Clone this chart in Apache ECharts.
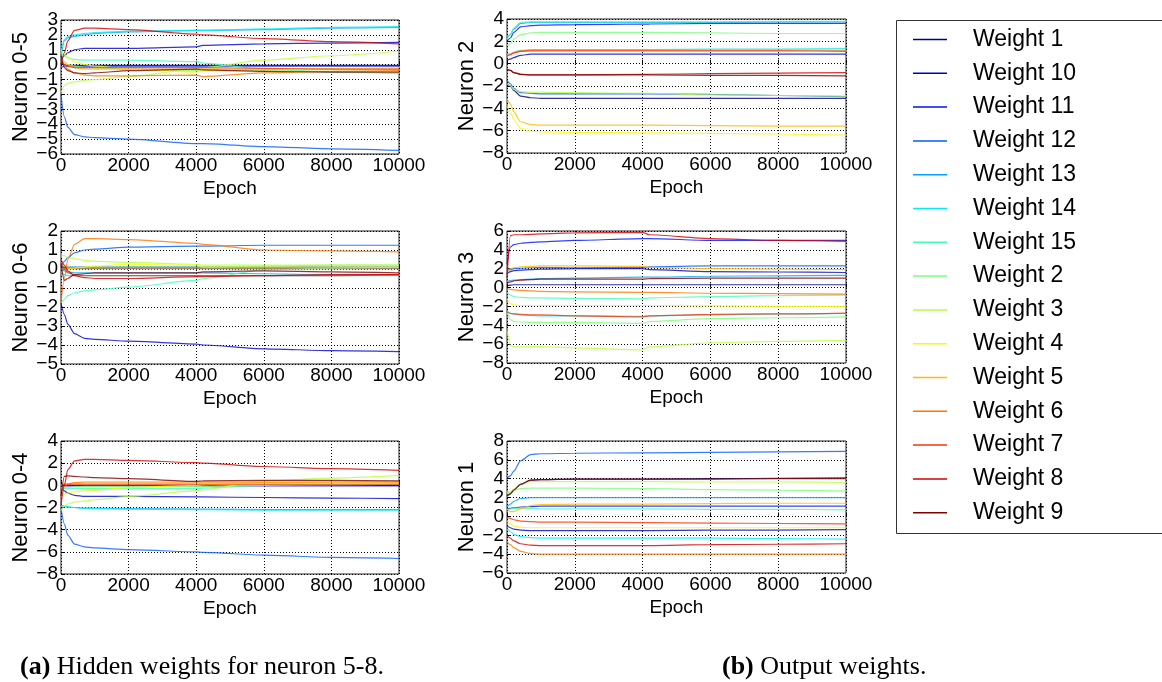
<!DOCTYPE html>
<html>
<head>
<meta charset="utf-8">
<script src="https://cdn.jsdelivr.net/npm/echarts@6/dist/echarts.min.js"></script>
<style>html,body{margin:0;padding:0;background:#fff;}#c{width:1162px;height:682px;}</style>
</head>
<body>
<div id="c"></div>
<script>
// ---- data ----
const epochs = [0, 100, 200, 400, 700, 1000, 2000, 4000, 4200, 6000, 8000, 10000];
const weightNames = ['Weight 1','Weight 10','Weight 11','Weight 12','Weight 13','Weight 14','Weight 15','Weight 2','Weight 3','Weight 4','Weight 5','Weight 6','Weight 7','Weight 8','Weight 9'];
const xTicks = [0, 2000, 4000, 6000, 8000, 10000];

// rows follow weightNames order
const neuron05 = [
  [0.1, 0, -0.05, -0.05, -0.05, -0.05, -0.05, -0.05, -0.05, -0.05, -0.05, -0.05],
  [0.3, 0.6, 0.8, 1.0, 1.1, 1.1, 1.1, 1.2, 1.3, 1.4, 1.45, 1.5],
  [-0.2, -0.1, -0.1, -0.1, -0.1, -0.1, -0.1, -0.1, -0.1, -0.1, -0.1, -0.1],
  [-2.0, -3.5, -4.2, -4.7, -4.85, -4.9, -5.0, -5.3, -5.3, -5.5, -5.65, -5.75],
  [0.5, 1.6, 1.8, 1.9, 2.0, 2.1, 2.2, 2.3, 2.3, 2.35, 2.45, 2.5],
  [0.8, 1.7, 1.9, 2.0, 2.1, 2.15, 2.25, 2.3, 2.3, 2.4, 2.5, 2.55],
  [0.8, 0.6, 0.45, 0.35, 0.3, 0.3, 0.3, 0.2, 0.1, -0.3, -0.5, -0.6],
  [0.3, 0.1, 0, -0.1, -0.2, -0.2, -0.3, -0.4, -0.4, -0.4, -0.45, -0.5],
  [-1.9, -1.4, -1.25, -1.15, -1.05, -1.0, -0.8, -0.3, -0.2, 0.3, 0.6, 0.9],
  [1.0, 0.7, 0.5, 0.2, 0.0, -0.1, -0.3, -0.5, -0.4, -0.3, -0.25, -0.2],
  [0.5, 0.2, 0, -0.2, -0.3, -0.3, -0.3, -0.3, -0.3, -0.3, -0.3, -0.3],
  [0.5, 0, -0.3, -0.55, -0.7, -0.75, -0.75, -0.7, -0.8, -0.55, -0.45, -0.4],
  [0.2, 0, -0.1, -0.2, -0.2, -0.2, -0.2, -0.2, -0.2, -0.25, -0.3, -0.3],
  [0.0, 0.8, 1.6, 2.3, 2.45, 2.45, 2.35, 2.05, 2.0, 1.75, 1.55, 1.4],
  [0.6, -0.2, -0.4, -0.55, -0.6, -0.55, -0.4, -0.3, -0.35, -0.45, -0.5, -0.5]
];
const neuron06 = [
  [0.1, 0.05, 0.05, 0.05, 0.05, 0.05, 0.05, 0.05, 0.05, 0.05, 0.05, 0.05],
  [-1.8, -2.4, -2.9, -3.4, -3.65, -3.7, -3.8, -3.95, -4.0, -4.2, -4.3, -4.35],
  [0.2, 0.1, 0.1, 0.1, 0.1, 0.1, 0.1, 0.1, 0.1, 0.1, 0.1, 0.1],
  [0.1, 0.4, 0.6, 0.85, 1.0, 1.05, 1.15, 1.2, 1.2, 1.25, 1.25, 1.25],
  [0, -0.1, -0.15, -0.2, -0.2, -0.2, -0.2, -0.2, -0.2, -0.25, -0.3, -0.3],
  [-0.2, -0.3, -0.35, -0.35, -0.35, -0.35, -0.35, -0.35, -0.35, -0.35, -0.35, -0.35],
  [-1.8, -1.6, -1.4, -1.25, -1.15, -1.1, -0.95, -0.6, -0.5, -0.05, 0.05, 0.1],
  [0.2, 0.15, 0.1, 0.1, 0.1, 0.1, 0.1, 0.1, 0.1, 0.15, 0.2, 0.2],
  [0.7, 0.7, 0.6, 0.55, 0.45, 0.4, 0.35, 0.25, 0.2, 0.2, 0.2, 0.2],
  [0.0, 0.0, 0.0, 0.05, 0.1, 0.15, 0.25, 0.2, 0.1, 0.1, 0.1, 0.1],
  [0, 0, 0, 0, 0, 0, 0, 0, 0, 0, 0, 0],
  [-1.8, -0.5, 0.5, 1.3, 1.6, 1.6, 1.55, 1.35, 1.3, 1.0, 0.95, 0.9],
  [0.3, 0, -0.2, -0.3, -0.35, -0.35, -0.35, -0.35, -0.35, -0.35, -0.35, -0.3],
  [0.5, 0.2, -0.1, -0.35, -0.45, -0.5, -0.5, -0.4, -0.4, -0.35, -0.3, -0.3],
  [0.3, -0.6, -0.5, -0.3, -0.25, -0.2, -0.2, -0.2, -0.15, -0.1, -0.15, -0.2]
];
const neuron04 = [
  [0, 0, 0, 0, 0, 0, 0, 0, 0, 0, 0, 0],
  [-0.3, -0.5, -0.7, -0.9, -1.0, -1.0, -1.0, -1.05, -1.05, -1.1, -1.15, -1.2],
  [0, -0.05, -0.05, -0.05, -0.05, -0.05, -0.05, -0.05, -0.05, -0.05, -0.05, -0.05],
  [-2.0, -3.5, -4.5, -5.3, -5.55, -5.65, -5.8, -6.0, -6.05, -6.3, -6.5, -6.6],
  [-1.8, -1.9, -1.95, -2.0, -2.05, -2.05, -2.1, -2.15, -2.15, -2.2, -2.2, -2.2],
  [-1.8, -1.9, -1.95, -2.0, -2.05, -2.1, -2.15, -2.2, -2.2, -2.25, -2.25, -2.25],
  [-0.3, -0.3, -0.3, -0.3, -0.3, -0.3, -0.3, -0.3, -0.25, 0, 0.05, 0.1],
  [-0.2, -0.2, -0.2, -0.15, -0.1, -0.1, -0.1, -0.1, -0.1, 0.05, 0.1, 0.15],
  [-2.3, -1.9, -1.7, -1.5, -1.4, -1.3, -1.0, -0.5, -0.4, 0.4, 0.65, 0.9],
  [-1.0, -0.8, -0.7, -0.6, -0.5, -0.45, -0.2, 0.0, 0.05, 0.2, 0.2, 0.2],
  [0.0, 0.1, 0.15, 0.2, 0.2, 0.2, 0.2, 0.2, 0.2, 0.25, 0.3, 0.3],
  [-0.5, -0.1, 0.1, 0.25, 0.3, 0.3, 0.3, 0.3, 0.3, 0.3, 0.3, 0.3],
  [0.1, 0.1, 0.1, 0.1, 0.1, 0.1, 0.1, 0.1, 0.1, 0.1, 0.1, 0.1],
  [-1.8, 0.0, 1.4, 2.2, 2.35, 2.35, 2.25, 2.05, 2.0, 1.7, 1.5, 1.35],
  [-1.0, 0.8, 0.85, 0.8, 0.75, 0.7, 0.6, 0.35, 0.4, 0.45, 0.45, 0.4]
];
const neuron2 = [
  [-1.8, -2.0, -2.4, -2.9, -3.05, -3.1, -3.1, -3.1, -3.1, -3.1, -3.1, -3.1],
  [0.3, 0.4, 0.55, 0.75, 0.85, 0.85, 0.85, 0.85, 0.85, 0.85, 0.85, 0.85],
  [2.0, 2.3, 2.8, 3.3, 3.4, 3.45, 3.5, 3.55, 3.55, 3.6, 3.6, 3.6],
  [-1.5, -1.8, -2.2, -2.6, -2.65, -2.7, -2.7, -2.7, -2.7, -2.75, -2.85, -2.95],
  [2.3, 2.6, 3.1, 3.6, 3.7, 3.7, 3.7, 3.7, 3.7, 3.7, 3.75, 3.75],
  [0.8, 0.9, 1.0, 1.2, 1.25, 1.25, 1.25, 1.25, 1.25, 1.3, 1.3, 1.35],
  [2.2, 2.6, 3.2, 3.7, 3.75, 3.75, 3.75, 3.75, 3.75, 3.75, 3.8, 3.8],
  [1.6, 1.8, 2.2, 2.6, 2.75, 2.8, 2.8, 2.8, 2.8, 2.75, 2.7, 2.7],
  [-1.8, -2.0, -2.3, -2.5, -2.55, -2.55, -2.6, -2.65, -2.65, -2.8, -2.85, -2.9],
  [-3.8, -4.3, -5.0, -5.8, -6.05, -6.1, -6.15, -6.2, -6.2, -6.25, -6.3, -6.4],
  [-3.2, -3.6, -4.3, -5.2, -5.45, -5.5, -5.5, -5.5, -5.5, -5.55, -5.6, -5.6],
  [0.7, 0.8, 1.0, 1.15, 1.2, 1.2, 1.2, 1.2, 1.2, 1.2, 1.2, 1.2],
  [0.7, 0.8, 0.95, 1.1, 1.15, 1.15, 1.15, 1.15, 1.15, 1.15, 1.15, 1.1],
  [-0.5, -0.6, -0.8, -0.95, -1.0, -1.0, -1.0, -0.95, -0.95, -0.9, -0.85, -0.8],
  [-0.5, -0.6, -0.8, -0.95, -1.0, -1.0, -1.0, -1.0, -1.0, -1.05, -1.05, -1.1]
];
const neuron3 = [
  [0.2, 0.25, 0.3, 0.3, 0.3, 0.3, 0.3, 0.3, 0.3, 0.3, 0.3, 0.3],
  [1.5, 1.7, 1.8, 1.85, 1.9, 1.95, 2.0, 2.0, 1.9, 1.7, 1.65, 1.6],
  [2.5, 4.3, 4.55, 4.7, 4.8, 4.85, 5.0, 5.2, 5.2, 5.0, 5.0, 5.0],
  [1.8, 1.9, 2.0, 2.05, 2.1, 2.15, 2.1, 2.15, 2.2, 2.3, 2.3, 2.3],
  [0.7, 0.75, 0.8, 0.85, 0.9, 0.95, 1.0, 1.1, 1.1, 1.2, 1.25, 1.3],
  [-2.5, -2.7, -2.8, -2.9, -2.95, -3.0, -3.0, -3.05, -3.0, -2.9, -2.8, -2.75],
  [-0.5, -0.8, -0.95, -1.05, -1.1, -1.1, -1.15, -1.2, -1.1, -0.95, -0.85, -0.8],
  [-2.6, -3.4, -3.6, -3.65, -3.7, -3.7, -3.7, -3.8, -3.6, -3.3, -3.2, -3.1],
  [-4.5, -6.1, -6.3, -6.3, -6.25, -6.25, -6.4, -6.6, -6.3, -5.85, -5.7, -5.6],
  [-1.2, -1.7, -1.85, -1.9, -1.9, -1.9, -1.9, -1.9, -1.9, -1.95, -2.0, -2.0],
  [1.8, 2.0, 2.1, 2.2, 2.25, 2.3, 2.3, 2.25, 2.15, 2.0, 1.95, 1.9],
  [-0.1, -0.2, -0.25, -0.3, -0.35, -0.4, -0.45, -0.5, -0.5, -0.6, -0.65, -0.7],
  [-2.6, -2.75, -2.8, -2.85, -2.9, -2.9, -3.0, -3.1, -3.0, -2.85, -2.8, -2.7],
  [1.0, 5.5, 5.6, 5.6, 5.65, 5.7, 5.8, 5.85, 5.6, 5.2, 5.0, 4.9],
  [0.5, 0.6, 0.7, 0.8, 0.85, 0.9, 0.9, 0.9, 0.95, 1.0, 1.0, 1.0]
];
const neuron1 = [
  [2.2, 2.4, 2.8, 3.4, 3.85, 3.9, 3.95, 3.95, 3.95, 4.0, 4.05, 4.1],
  [-1.0, -1.2, -1.35, -1.45, -1.5, -1.5, -1.5, -1.5, -1.5, -1.45, -1.45, -1.4],
  [0.8, 0.85, 0.9, 1.0, 1.05, 1.1, 1.1, 1.1, 1.1, 1.1, 1.1, 1.1],
  [4.1, 4.3, 4.8, 5.9, 6.55, 6.65, 6.7, 6.75, 6.75, 6.8, 6.85, 6.9],
  [1.0, 1.3, 1.6, 1.9, 2.0, 2.0, 2.0, 2.0, 2.0, 2.0, 2.0, 2.0],
  [-1.3, -1.6, -1.9, -2.15, -2.25, -2.3, -2.3, -2.3, -2.3, -2.3, -2.35, -2.4],
  [0.7, 0.8, 0.85, 0.85, 0.85, 0.8, 0.8, 0.8, 0.8, 0.75, 0.75, 0.7],
  [2.5, 2.6, 2.75, 2.95, 3.0, 3.0, 3.0, 2.95, 2.95, 2.85, 2.8, 2.7],
  [2.5, 2.6, 2.9, 3.4, 3.7, 3.7, 3.7, 3.7, 3.7, 3.65, 3.65, 3.6],
  [-0.5, -0.8, -1.0, -1.15, -1.2, -1.2, -1.2, -1.2, -1.2, -1.2, -1.2, -1.2],
  [0.8, 0.5, 0.5, 0.8, 1.15, 1.25, 1.3, 1.3, 1.3, 1.35, 1.4, 1.4],
  [-2.7, -3.0, -3.3, -3.7, -3.95, -4.0, -4.0, -4.0, -4.0, -4.0, -4.0, -4.0],
  [-0.1, -0.2, -0.35, -0.5, -0.55, -0.6, -0.6, -0.65, -0.65, -0.7, -0.75, -0.8],
  [-2.0, -2.3, -2.6, -2.9, -3.05, -3.1, -3.1, -3.1, -3.1, -3.0, -2.95, -2.9],
  [2.2, 2.4, 2.8, 3.4, 3.85, 3.9, 3.95, 3.95, 3.95, 3.95, 4.0, 4.0]
];

const panelNames = ['Neuron 0-5', 'Neuron 0-6', 'Neuron 0-4', 'Neuron 2', 'Neuron 3', 'Neuron 1'];
const panelData = [neuron05, neuron06, neuron04, neuron2, neuron3, neuron1];
const yMin = [-6, -5, -8, -8, -8, -6];
const yMax = [3, 2, 4, 4, 6, 8];
const yStep = [1, 1, 2, 2, 2, 2];
const captionA = 'Hidden weights for neuron 5-8.';
const captionB = 'Output weights.';

// ---- styling ----
function jet(t) {
  function seg(p) {
    for (let i = 0; i < p.length - 1; i++) {
      const a = p[i], b = p[i + 1];
      if (t >= a[0] && t <= b[0]) return a[1] + (b[1] - a[1]) * (t - a[0]) / (b[0] - a[0]);
    }
    return p[p.length - 1][1];
  }
  const r = seg([[0,0],[0.35,0],[0.66,1],[0.89,1],[1,0.5]]);
  const g = seg([[0,0],[0.125,0],[0.375,1],[0.64,1],[0.91,0],[1,0]]);
  const b = seg([[0,0.5],[0.11,1],[0.34,1],[0.65,0],[1,0]]);
  return 'rgb(' + Math.round(r*255) + ',' + Math.round(g*255) + ',' + Math.round(b*255) + ')';
}
const colors = weightNames.map((_, i) => jet(i / (weightNames.length - 1)));
const FONT = 'Liberation Sans, Arial, sans-serif';
const TICK_FONT = 19;
const gridBoxes = [
  {left: 61, top: 20, width: 338, height: 134},
  {left: 61, top: 231, width: 338, height: 133},
  {left: 61, top: 441, width: 338, height: 133},
  {left: 507, top: 19, width: 339, height: 134},
  {left: 507, top: 231, width: 339, height: 132},
  {left: 507, top: 441, width: 339, height: 132}
];
const minus = v => (v < 0 ? '\u2212' + Math.abs(v) : String(v));

const grids = [], xAxes = [], yAxes = [], extraY = [], series = [];
gridBoxes.forEach((g, p) => {
  grids.push(Object.assign({show: true, borderColor: '#222', borderWidth: 1, backgroundColor: 'transparent', containLabel: false}, g));
  xAxes.push({
    gridIndex: p, type: 'value', min: 0, max: 10000, interval: 2000,
    name: 'Epoch', nameLocation: 'middle', nameGap: 25,
    nameTextStyle: {fontSize: 19, color: '#000', fontFamily: FONT},
    axisLine: {show: false},
    axisTick: {show: true, inside: true, length: 4, lineStyle: {color: '#000'}},
    axisLabel: {fontSize: TICK_FONT, color: '#000', fontFamily: FONT, margin: 2, showMinLabel: true, showMaxLabel: true,
      formatter: v => xTicks.includes(v) ? String(v) : ''},
    splitLine: {show: true, lineStyle: {color: '#000', type: [1, 2], width: 1}}
  });
  yAxes.push({
    gridIndex: p, type: 'value', min: yMin[p], max: yMax[p], interval: yStep[p],
    name: panelNames[p], nameLocation: 'middle', nameGap: p < 3 ? 24 : 26,
    nameTextStyle: {fontSize: 22, color: '#000', fontFamily: FONT},
    axisLine: {show: false},
    axisTick: {show: true, inside: true, length: 4, lineStyle: {color: '#000'}},
    axisLabel: {fontSize: TICK_FONT, color: '#000', fontFamily: FONT, margin: 3, formatter: minus, hideOverlap: false,
      showMinLabel: true, showMaxLabel: true},
    splitLine: {show: true, lineStyle: {color: '#000', type: [1, 2], width: 1}}
  });
  // crowded axis: a companion axis carries the labels next to min/max that the main axis drops
  const spacing = g.height / ((yMax[p] - yMin[p]) / yStep[p]);
  if (spacing < 17) {
    const keep = [yMin[p] + yStep[p], yMax[p] - yStep[p]];
    extraY.push({
      gridIndex: p, type: 'value', min: yMin[p], max: yMax[p], interval: yStep[p], position: 'left',
      axisLine: {show: false}, axisTick: {show: false}, splitLine: {show: false},
      axisLabel: {fontSize: TICK_FONT, color: '#000', fontFamily: FONT, margin: 3, hideOverlap: false,
        formatter: v => keep.some(k => Math.abs(k - v) < 1e-9) ? minus(v) : ''}
    });
  }
  panelData[p].forEach((row, i) => {
    series.push({
      type: 'line', name: weightNames[i], xAxisIndex: p, yAxisIndex: p,
      data: epochs.map((e, k) => [e, row[k]]),
      symbol: 'none', smooth: 0.25, smoothMonotone: 'x',
      lineStyle: {width: 1.2, color: colors[i], opacity: 0.8},
      itemStyle: {color: colors[i]},
      emphasis: {disabled: true}
    });
  });
});

const chart = echarts.init(document.getElementById('c'), null, {renderer: 'canvas'});
chart.setOption({
  animation: false,
  backgroundColor: '#fff',
  grid: grids, xAxis: xAxes, yAxis: yAxes.concat(extraY), series: series,
  legend: {
    data: weightNames.map(n => ({name: n, icon: 'rect'})), orient: 'vertical', left: 913, top: 27.5, padding: 0,
    itemWidth: 34, itemHeight: 1.5, itemGap: 9.8, selectedMode: false,
    textStyle: {fontSize: 23, color: '#000', fontFamily: FONT, lineHeight: 24, padding: [0, 0, 0, 21]}
  },
  title: [
    {left: 20, top: 654, padding: 0, text: '{b|(a)} ' + captionA,
     textStyle: {fontFamily: 'Liberation Serif, Times New Roman, serif', fontSize: 26, fontWeight: 'normal', color: '#000',
       rich: {b: {fontFamily: 'Liberation Serif, Times New Roman, serif', fontSize: 26, fontWeight: 'bold', color: '#000'}}}},
    {left: 722, top: 654, padding: 0, text: '{b|(b)} ' + captionB,
     textStyle: {fontFamily: 'Liberation Serif, Times New Roman, serif', fontSize: 26, fontWeight: 'normal', color: '#000',
       rich: {b: {fontFamily: 'Liberation Serif, Times New Roman, serif', fontSize: 26, fontWeight: 'bold', color: '#000'}}}}
  ],
  graphic: [{type: 'rect', silent: true, shape: {x: 896.5, y: 20.5, width: 280, height: 513}, style: {fill: 'none', stroke: '#333', lineWidth: 1}}]
});
</script>
</body>
</html>
